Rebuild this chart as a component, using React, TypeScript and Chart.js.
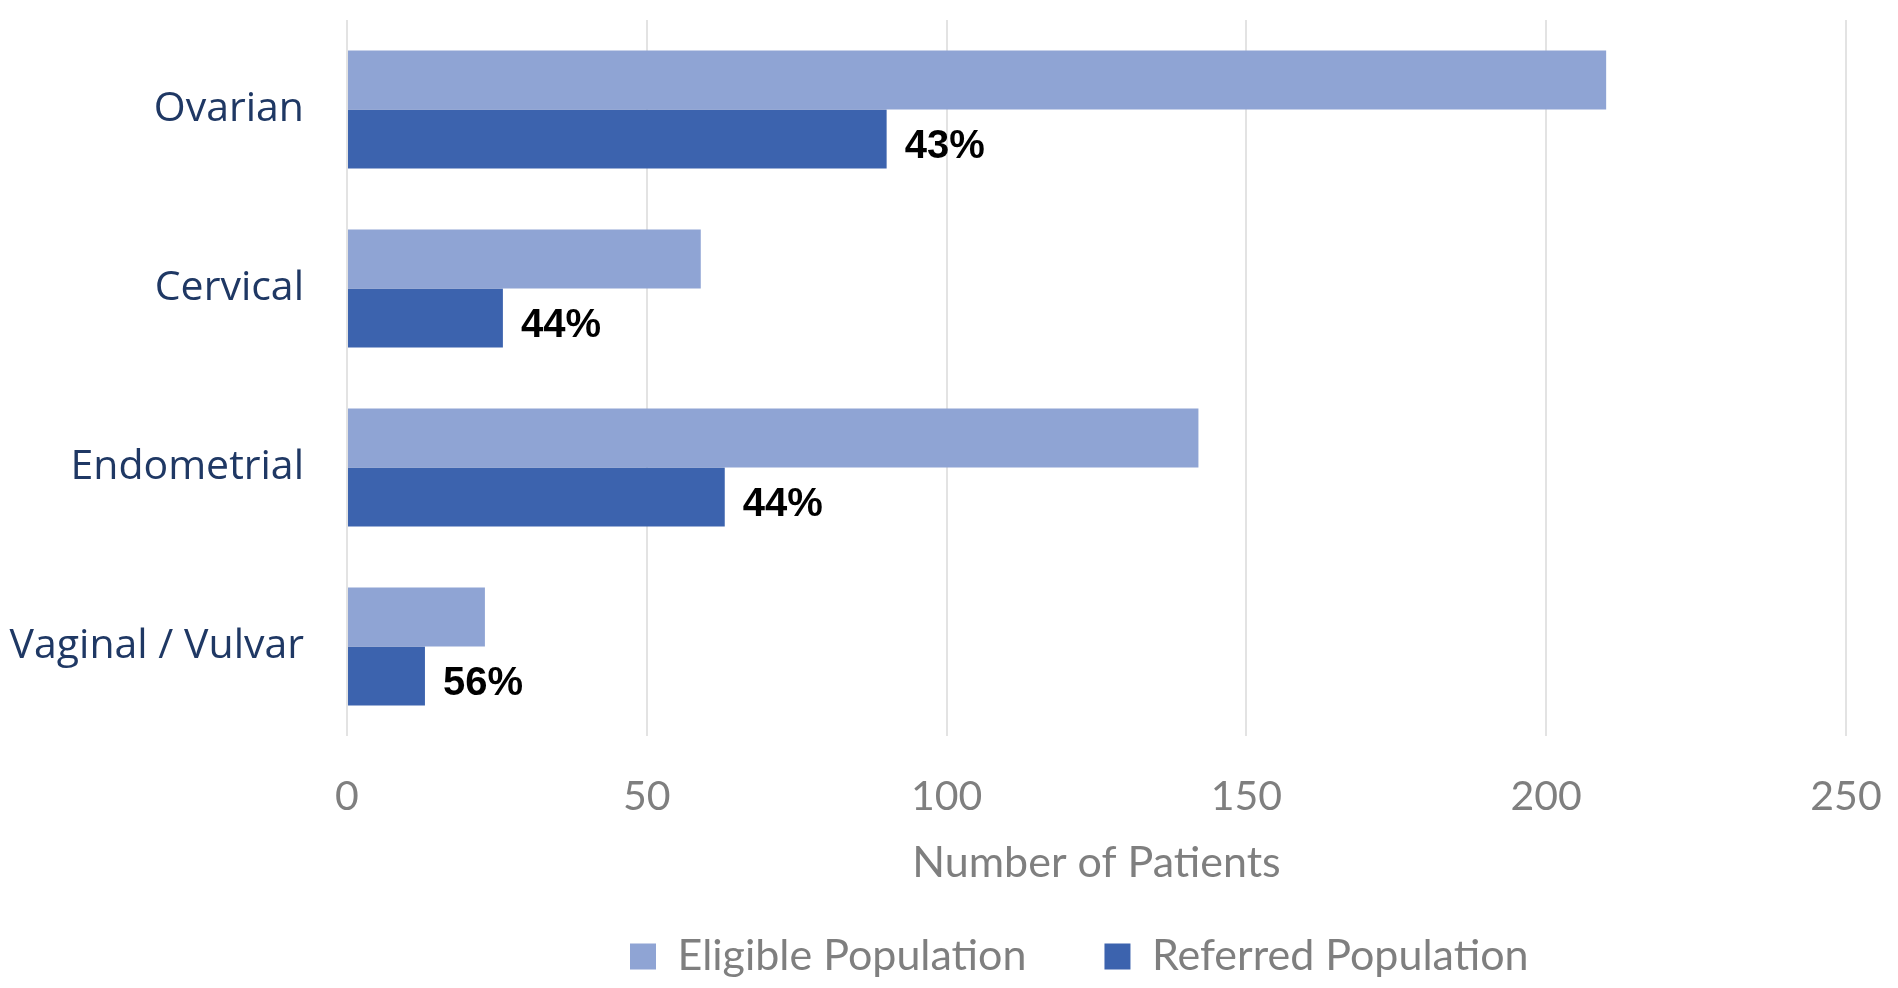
import React, { useEffect, useRef } from "react";
import { Chart, registerables } from "chart.js";

Chart.register(...registerables);

const categories = ["Ovarian", "Cervical", "Endometrial", "Vaginal / Vulvar"];
const eligible = [210, 59, 142, 23];
const referred = [90, 26, 63, 13];
const referredPct = ["43%", "44%", "44%", "56%"];
const xTickValues = [0, 50, 100, 150, 200, 250];
const seriesNames = ["Eligible Population", "Referred Population"];

const LIGHT = "#8FA4D4";
const DARK = "#3C63AE";
const GRAY = "#7F7F7F";
const NAVY = "#1F3864";

const pctLabelPlugin = {
  id: "pctLabels",
  afterDatasetsDraw(chart: any) {
    const meta = chart.getDatasetMeta(1);
    const ctx = chart.ctx;
    ctx.save();
    ctx.font = "bold 40px 'Liberation Sans', Arial, sans-serif";
    ctx.fillStyle = "#000000";
    ctx.textAlign = "left";
    ctx.textBaseline = "middle";
    meta.data.forEach((bar: any, i: number) => {
      ctx.fillText(referredPct[i], bar.x + 18, bar.y + 8);
    });
    ctx.restore();
  },
};

const legendShiftPlugin = {
  id: "legendShift",
  afterLayout(chart: any) {
    const lg = chart.legend;
    if (!lg || !lg.lineWidths) return;
    const p = lg.options.labels.padding;
    const lw = lg.lineWidths[0];
    const x = (lg.left + p + lg.right - lw) / 2;
    const shift = 630 - x;
    lg.left += shift;
    lg.right += shift;
  },
};

export default function App() {
  const ref = useRef<HTMLCanvasElement | null>(null);

  useEffect(() => {
    if (!ref.current) return;
    const chart = new Chart(ref.current, {
      type: "bar",
      data: {
        labels: categories,
        datasets: [
          {
            label: seriesNames[0],
            data: eligible,
            backgroundColor: LIGHT,
            borderWidth: 0,
            barPercentage: 1,
            categoryPercentage: 0.66,
          },
          {
            label: seriesNames[1],
            data: referred,
            backgroundColor: DARK,
            borderWidth: 0,
            barPercentage: 1,
            categoryPercentage: 0.66,
          },
        ],
      },
      options: {
        indexAxis: "y",
        animation: false,
        responsive: true,
        maintainAspectRatio: false,
        layout: { padding: { top: 20, right: 52, left: 0, bottom: 0 } },
        plugins: {
          tooltip: { enabled: false },
          legend: {
            position: "bottom",
            labels: {
              boxWidth: 26,
              boxHeight: 26,
              padding: 78,
              color: GRAY,
              font: { family: "Lato", size: 43 },
            },
          },
        },
        scales: {
          x: {
            min: 0,
            max: 250,
            afterBuildTicks: (scale: any) => {
              scale.ticks = xTickValues.map((v) => ({ value: v }));
            },
            afterFit: (scale: any) => {
              scale.height = 121;
              scale.paddingLeft = 0;
              scale.paddingRight = 0;
            },
            grid: { color: "#E3E3E3", lineWidth: 2, drawTicks: false },
            border: { display: false },
            ticks: {
              color: GRAY,
              font: { family: "Lato", size: 41 },
              padding: 36,
              maxRotation: 0,
            },
            title: {
              display: true,
              text: "Number of Patients",
              color: GRAY,
              font: { family: "Lato", size: 43, lineHeight: 1.2 },
              padding: { top: 0, bottom: -32 },
            },
          },
          y: {
            afterFit: (scale: any) => {
              scale.width = 347;
              scale.paddingTop = 0;
              scale.paddingBottom = 0;
            },
            grid: { display: false, drawTicks: false },
            border: { display: false },
            ticks: {
              color: NAVY,
              font: { family: "'Open Sans'", size: 41 },
              padding: 43,
            },
          },
        },
      },
      plugins: [pctLabelPlugin, legendShiftPlugin],
    });
    return () => chart.destroy();
  }, []);

  return (
    <div style={{ position: "fixed", left: 0, top: 0, width: 1898, height: 988, background: "#ffffff" }}>
      <canvas ref={ref} />
    </div>
  );
}
